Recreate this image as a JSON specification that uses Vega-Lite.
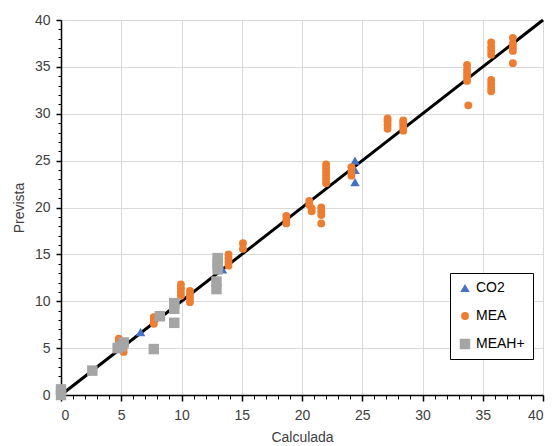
{
  "$schema": "https://vega.github.io/schema/vega-lite/v6.json",
  "width": 482,
  "height": 375,
  "autosize": {"type": "none"},
  "padding": {"left": 61, "top": 20, "right": 9, "bottom": 51},
  "background": "white",
  "config": {
    "view": {"stroke": "black", "strokeWidth": 1},
    "font": "Liberation Sans",
    "axis": {
      "labelFont": "Liberation Sans",
      "titleFont": "Liberation Sans",
      "labelFontSize": 14,
      "titleFontSize": 14,
      "labelColor": "#404040",
      "titleColor": "#404040",
      "titleFontWeight": "normal",
      "domainColor": "black",
      "tickColor": "black",
      "gridColor": "#D9D9D9",
      "gridWidth": 1,
      "labelOverlap": false
    },
    "legend": {
      "orient": "none",
      "legendX": 389,
      "legendY": 253,
      "strokeColor": "black",
      "fillColor": "white",
      "padding": 8,
      "rowPadding": 14,
      "labelFontSize": 14,
      "labelColor": "black",
      "labelFont": "Liberation Sans",
      "symbolSize": 80,
      "labelOffset": 4,
      "symbolStrokeWidth": 0
    }
  },
  "datasets": {
    "ref": [{"x": 0, "y": 0}, {"x": 40, "y": 40}],
    "pts": [
      {"serie": "CO2", "calc": 6.6, "prev": 6.7},
      {"serie": "CO2", "calc": 13.4, "prev": 13.4},
      {"serie": "CO2", "calc": 24.4, "prev": 25.0},
      {"serie": "CO2", "calc": 24.4, "prev": 24.0},
      {"serie": "CO2", "calc": 24.4, "prev": 22.7},
      {"serie": "MEA", "calc": 4.8, "prev": 5.6},
      {"serie": "MEA", "calc": 4.8, "prev": 6.0},
      {"serie": "MEA", "calc": 5.2, "prev": 4.6},
      {"serie": "MEA", "calc": 5.2, "prev": 5.0},
      {"serie": "MEA", "calc": 7.7, "prev": 7.6},
      {"serie": "MEA", "calc": 7.7, "prev": 8.0},
      {"serie": "MEA", "calc": 7.7, "prev": 8.3},
      {"serie": "MEA", "calc": 9.95, "prev": 10.6},
      {"serie": "MEA", "calc": 9.95, "prev": 11.0},
      {"serie": "MEA", "calc": 9.95, "prev": 11.4},
      {"serie": "MEA", "calc": 9.95, "prev": 11.8},
      {"serie": "MEA", "calc": 10.7, "prev": 9.9},
      {"serie": "MEA", "calc": 10.7, "prev": 10.3},
      {"serie": "MEA", "calc": 10.7, "prev": 10.7},
      {"serie": "MEA", "calc": 10.7, "prev": 11.1},
      {"serie": "MEA", "calc": 13.9, "prev": 13.8},
      {"serie": "MEA", "calc": 13.9, "prev": 14.2},
      {"serie": "MEA", "calc": 13.9, "prev": 14.6},
      {"serie": "MEA", "calc": 13.9, "prev": 15.0},
      {"serie": "MEA", "calc": 15.1, "prev": 15.6},
      {"serie": "MEA", "calc": 15.1, "prev": 16.2},
      {"serie": "MEA", "calc": 18.7, "prev": 18.3},
      {"serie": "MEA", "calc": 18.7, "prev": 18.7},
      {"serie": "MEA", "calc": 18.7, "prev": 19.1},
      {"serie": "MEA", "calc": 20.6, "prev": 20.7},
      {"serie": "MEA", "calc": 20.6, "prev": 20.3},
      {"serie": "MEA", "calc": 20.8, "prev": 19.9},
      {"serie": "MEA", "calc": 20.8, "prev": 19.6},
      {"serie": "MEA", "calc": 21.6, "prev": 20.0},
      {"serie": "MEA", "calc": 21.6, "prev": 19.6},
      {"serie": "MEA", "calc": 21.6, "prev": 19.2},
      {"serie": "MEA", "calc": 21.6, "prev": 18.3},
      {"serie": "MEA", "calc": 22.0, "prev": 22.6},
      {"serie": "MEA", "calc": 22.0, "prev": 23.0},
      {"serie": "MEA", "calc": 22.0, "prev": 23.4},
      {"serie": "MEA", "calc": 22.0, "prev": 23.8},
      {"serie": "MEA", "calc": 22.0, "prev": 24.2},
      {"serie": "MEA", "calc": 22.0, "prev": 24.6},
      {"serie": "MEA", "calc": 24.1, "prev": 23.4},
      {"serie": "MEA", "calc": 24.1, "prev": 23.8},
      {"serie": "MEA", "calc": 24.1, "prev": 24.3},
      {"serie": "MEA", "calc": 27.1, "prev": 28.4},
      {"serie": "MEA", "calc": 27.1, "prev": 28.8},
      {"serie": "MEA", "calc": 27.1, "prev": 29.2},
      {"serie": "MEA", "calc": 27.1, "prev": 29.5},
      {"serie": "MEA", "calc": 28.4, "prev": 28.2},
      {"serie": "MEA", "calc": 28.4, "prev": 28.6},
      {"serie": "MEA", "calc": 28.4, "prev": 29.0},
      {"serie": "MEA", "calc": 28.4, "prev": 29.3},
      {"serie": "MEA", "calc": 33.7, "prev": 33.5},
      {"serie": "MEA", "calc": 33.7, "prev": 33.9},
      {"serie": "MEA", "calc": 33.7, "prev": 34.3},
      {"serie": "MEA", "calc": 33.7, "prev": 34.7},
      {"serie": "MEA", "calc": 33.7, "prev": 35.2},
      {"serie": "MEA", "calc": 33.8, "prev": 30.9},
      {"serie": "MEA", "calc": 35.7, "prev": 36.3},
      {"serie": "MEA", "calc": 35.7, "prev": 36.7},
      {"serie": "MEA", "calc": 35.7, "prev": 37.1},
      {"serie": "MEA", "calc": 35.7, "prev": 37.6},
      {"serie": "MEA", "calc": 35.7, "prev": 32.4},
      {"serie": "MEA", "calc": 35.7, "prev": 32.8},
      {"serie": "MEA", "calc": 35.7, "prev": 33.2},
      {"serie": "MEA", "calc": 35.7, "prev": 33.6},
      {"serie": "MEA", "calc": 37.5, "prev": 38.1},
      {"serie": "MEA", "calc": 37.5, "prev": 37.5},
      {"serie": "MEA", "calc": 37.5, "prev": 37.1},
      {"serie": "MEA", "calc": 37.5, "prev": 36.7},
      {"serie": "MEA", "calc": 37.5, "prev": 35.4},
      {"serie": "MEAH+", "calc": 0, "prev": 0},
      {"serie": "MEAH+", "calc": 0, "prev": 0.6},
      {"serie": "MEAH+", "calc": 2.6, "prev": 2.6},
      {"serie": "MEAH+", "calc": 4.7, "prev": 5.0},
      {"serie": "MEAH+", "calc": 5.2, "prev": 5.6},
      {"serie": "MEAH+", "calc": 5.0, "prev": 5.2},
      {"serie": "MEAH+", "calc": 7.7, "prev": 4.9},
      {"serie": "MEAH+", "calc": 8.2, "prev": 8.4},
      {"serie": "MEAH+", "calc": 9.4, "prev": 7.7},
      {"serie": "MEAH+", "calc": 9.4, "prev": 9.2},
      {"serie": "MEAH+", "calc": 9.4, "prev": 9.8},
      {"serie": "MEAH+", "calc": 12.9, "prev": 11.3},
      {"serie": "MEAH+", "calc": 12.9, "prev": 12.1},
      {"serie": "MEAH+", "calc": 13.0, "prev": 13.4},
      {"serie": "MEAH+", "calc": 13.0, "prev": 14.0},
      {"serie": "MEAH+", "calc": 13.0, "prev": 14.6}
    ]
  },
  "layer": [
    {
      "data": {"name": "ref"},
      "mark": {"type": "line", "color": "black", "strokeWidth": 3},
      "encoding": {
        "x": {
          "field": "x", "type": "quantitative",
          "scale": {"domain": [0, 40], "nice": false},
          "axis": {
            "values": [0,1,2,3,4,5,6,7,8,9,10,11,12,13,14,15,16,17,18,19,20,21,22,23,24,25,26,27,28,29,30,31,32,33,34,35,36,37,38,39,40],
            "tickCount": 100,
            "format": "d",
            "labelExpr": "datum.value % 5 === 0 ? datum.label : ''",
            "title": "Calculada",
            "grid": true,
            "gridOpacity": {"condition": {"test": "datum.value % 5 === 0", "value": 1}, "value": 0},
            "tickSize": {"condition": {"test": "datum.value % 5 === 0", "value": 6}, "value": 4},
            "tickWidth": {"condition": {"test": "datum.value % 5 === 0", "value": 1.5}, "value": 1},
            "domainWidth": 1.5,
            "labelPadding": 7,
            "titlePadding": 8
          }
        },
        "y": {
          "field": "y", "type": "quantitative",
          "scale": {"domain": [0, 40], "nice": false},
          "axis": {
            "values": [0,1,2,3,4,5,6,7,8,9,10,11,12,13,14,15,16,17,18,19,20,21,22,23,24,25,26,27,28,29,30,31,32,33,34,35,36,37,38,39,40],
            "tickCount": 100,
            "format": "d",
            "labelExpr": "datum.value % 5 === 0 ? datum.label : ''",
            "title": "Prevista",
            "grid": true,
            "gridOpacity": {"condition": {"test": "datum.value % 5 === 0", "value": 1}, "value": 0},
            "tickSize": {"condition": {"test": "datum.value % 5 === 0", "value": 5}, "value": 3},
            "tickWidth": {"condition": {"test": "datum.value % 5 === 0", "value": 1.5}, "value": 1},
            "domainWidth": 1.5,
            "labelPadding": 6,
            "titlePadding": 8
          }
        }
      }
    },
    {
      "data": {"name": "pts"},
      "mark": {"type": "point", "filled": true, "opacity": 1, "strokeWidth": 0},
      "encoding": {
        "x": {"field": "calc", "type": "quantitative"},
        "y": {"field": "prev", "type": "quantitative"},
        "color": {
          "field": "serie", "type": "nominal",
          "scale": {"domain": ["CO2", "MEA", "MEAH+"], "range": ["#4472C4", "#ED7D31", "#A5A5A5"]},
          "legend": {"title": null}
        },
        "shape": {
          "field": "serie", "type": "nominal",
          "scale": {"domain": ["CO2", "MEA", "MEAH+"], "range": ["triangle-up", "circle", "square"]},
          "legend": {"title": null}
        },
        "size": {
          "field": "serie", "type": "nominal",
          "scale": {"type": "ordinal", "domain": ["CO2", "MEA", "MEAH+"], "range": [90, 62, 110]},
          "legend": null
        }
      }
    }
  ]
}
